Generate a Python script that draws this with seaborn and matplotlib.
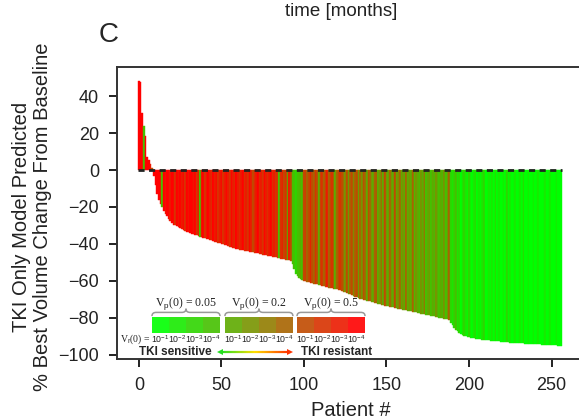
import numpy as np
import pandas as pd
import matplotlib
matplotlib.use('Agg')
import matplotlib.pyplot as plt
import seaborn as sns
from matplotlib.patches import Rectangle, PathPatch
from matplotlib.path import Path
from matplotlib.collections import LineCollection
from matplotlib.colors import LinearSegmentedColormap

# ------------------------------------------
# datos: % mejor cambio de volumen por paciente (ordenado)
# ------------------------------------------
seg_pos = [48, 47.5, 31, 24, 18.6, 7, 5.4, 3, 1]
seg_fall = [-3, -8, -13, -16, -18.5, -20, -22, -24, -25, -26.5, -27.5, -28.5,
            -29.5, -30, -30.5, -31, -31.5]
seg_a = [-32, -32.5, -33, -33.3, -33.7, -34, -34.4, -34.8, -35.1, -35.4, -35.7, -36]
seg_b = [-36.3, -36.6, -36.9, -37.2, -37.5, -37.8, -38.1, -38.4, -38.7, -39,
         -39.3, -39.6, -39.9, -40.2, -40.5, -40.8, -41.1, -41.4, -41.7, -42,
         -42.3, -42.6, -42.8, -43]
seg_c = [-43.2, -43.4, -43.6, -43.8, -44, -44.2, -44.4, -44.5, -44.7, -44.9,
         -45.1, -45.3, -45.5, -45.7, -45.9, -46.1, -46.3, -46.5, -46.7, -46.9,
         -47.1, -47.3, -47.5, -47.7, -47.9, -48.1, -48.3, -48.5, -48.6, -48.8, -49.2]
seg_drop1 = [-51, -53.5, -56, -57.5, -58.5, -59, -59.5]
seg_d = [-59.8, -60.1, -60.4, -60.6, -60.9, -61.1, -61.4, -61.6, -61.9, -62.1,
         -62.4, -62.6, -62.9, -63.1, -63.3, -63.6, -63.8, -64.0, -64.2, -64.4,
         -64.6, -64.8, -65]
seg_e = [-65.3, -65.7, -66.1, -66.5, -66.9, -67.3, -67.7, -68.1, -68.5, -68.9, -69.2, -69.5, -69.8, -70.1,
         -70.4, -70.6, -70.9, -71.1, -71.4, -71.6, -71.9, -72.1, -72.4, -72.6, -72.9, -73.1, -73.3, -73.5,
         -73.7, -73.9, -74.1, -74.3, -74.5, -74.7, -74.9, -75.1, -75.3, -75.5, -75.7, -75.9, -76.1, -76.3, -76.5, -76.6,
         -76.8, -77.0, -77.2, -77.4, -77.6, -77.8, -78.0, -78.2, -78.4, -78.6, -78.8, -79.0, -79.2, -79.4,
         -79.6, -79.8, -80.0, -80.2, -80.4, -80.6, -80.8, -81.0]
seg_drop2 = [-82.5, -84, -85.5, -86.5, -87.3, -88, -88.6, -89.1, -89.5, -89.9, -90.2, -90.5, -90.8, -91]
seg_tail = [-91.1, -91.2, -91.4, -91.5, -91.6, -91.7, -91.8, -91.9, -92.0, -92.1,
            -92.2, -92.3, -92.4, -92.5, -92.6, -92.7, -92.8, -92.9, -93.0, -93.1,
            -93.1, -93.2, -93.3, -93.3, -93.4, -93.5, -93.5, -93.6, -93.7, -93.7,
            -93.8, -93.9, -93.9, -94.0, -94.0, -94.1, -94.1, -94.2, -94.2, -94.3,
            -94.3, -94.4, -94.4, -94.5, -94.5, -94.6, -94.6, -94.7, -94.7, -94.8,
            -94.8, -94.9, -94.9, -95.0]

# indice de color (0 = Vp 0.05 / Vr 1e-1 ... 11 = Vp 0.5 / Vr 1e-4)
col_pos = [11, 11, 11, 3, 11, 11, 11, 10, 8]
col_fall = [11, 11, 11, 11, 11, 3, 11, 10, 11, 11, 10, 11, 11, 9, 11, 10, 11]
col_a = [10, 11, 9, 11, 10, 11, 11, 10, 11, 9, 11, 3]
col_b = [10, 11, 9, 10, 11, 10, 9, 11, 10, 11, 9, 10, 11, 9, 10, 11, 10, 9, 11, 10, 9, 11, 10, 9]
col_c = [10, 11, 9, 10, 9, 11, 10, 8, 9, 10, 11, 9, 10, 9, 11, 10, 9, 10, 11, 9, 10, 9, 10, 3,
         9, 10, 8, 9, 3, 10, 8]
col_drop1 = [3, 3, 2, 3, 3, 4, 3]
col_d = [8, 9, 7, 8, 10, 8, 7, 9, 8, 4, 8, 9, 7, 8, 10, 7, 8, 9, 8, 4, 7, 8, 9]
col_e = [8, 7, 5, 8, 4, 7, 8, 5, 7, 8, 4,
         7, 5, 8, 7, 4, 8, 7, 5, 4, 7, 8,
         4, 5, 7, 4, 8, 5, 4, 7, 5, 4, 8,
         4, 5, 7, 4, 5, 3, 7, 4, 5, 4, 7,
         3, 5, 4, 3, 5, 4, 7, 3, 4, 5, 3,
         4, 3, 5, 4, 3, 4, 3, 5, 3, 4, 7]
col_drop2 = [2, 1, 2, 3, 1, 2, 0, 1, 2, 1, 0, 2, 1, 0]
col_tail = [1, 2, 0, 1, 0, 1, 2, 0, 0, 1, 0, 1, 0, 2, 0, 1, 0, 0, 1, 0,
            2, 0, 1, 0, 0, 1, 0, 0, 1, 0, 2, 0, 0, 1, 0, 0, 1, 0, 0, 1,
            0, 0, 0, 1, 0, 0, 1, 0, 0, 0, 1, 0, 0, 0]

palette12 = ['#00ff00', '#17ea00', '#2ed500', '#45c000',
             '#5eaa00', '#789400', '#917c00', '#a86400',
             '#c04a00', '#d83200', '#ec1a00', '#ff0000']
vp_labels = ['0.05', '0.2', '0.5']
vr_labels = [r'10$^{-1}$', r'10$^{-2}$', r'10$^{-3}$', r'10$^{-4}$']

values = (seg_pos + seg_fall + seg_a + seg_b + seg_c + seg_drop1 + seg_d +
          seg_e + seg_drop2 + seg_tail)
cidx = (col_pos + col_fall + col_a + col_b + col_c + col_drop1 + col_d +
        col_e + col_drop2 + col_tail)
assert len(values) == len(cidx)
n = len(values)

df = pd.DataFrame({'patient': np.arange(n), 'change': values})
bar_colors = [palette12[i] for i in cidx]

# ------------------------------------------
# figura
# ------------------------------------------
sns.set_style('ticks')
plt.rcParams['font.family'] = ['Liberation Sans', 'DejaVu Sans']
plt.rcParams['mathtext.fontset'] = 'custom'
plt.rcParams['mathtext.rm'] = 'Liberation Sans'

fig = plt.figure(figsize=(5.79, 4.19), dpi=100)
ax = fig.add_axes([117 / 579, 60 / 419, 468 / 579, 292 / 419])

sns.barplot(data=df, x='patient', y='change', hue='patient', palette=bar_colors,
            saturation=1, width=1.0, linewidth=0, legend=False, ax=ax)
for p in ax.patches:
    p.set_edgecolor(p.get_facecolor())
    p.set_linewidth(0.3)

ax.plot([-0.8, n - 0.5], [0, 0], color='#222222', lw=2, ls=(0, (2.2, 1.6)))

ax.set_xlim(-13.3, 270.3)
ax.set_ylim(-102.2, 55.7)
ax.set_xticks([0, 50, 100, 150, 200, 250])
ax.set_xticklabels(['0', '50', '100', '150', '200', '250'])
ax.set_yticks([40, 20, 0, -20, -40, -60, -80, -100])
ax.set_yticklabels(['40', '20', '0', '\u221220', '\u221240', '\u221260', '\u221280', '\u2212100'])
ax.tick_params(labelsize=13, length=6, width=1.4, pad=7, color='#222222', labelcolor='#222222')
for s in ax.spines.values():
    s.set_linewidth(1.4)
    s.set_color('#333333')
ax.set_xlabel('Patient #', fontsize=14.5, labelpad=5, color='#222222')
ax.set_ylabel('')
fig.text(32 / 579, 1 - 217 / 419, 'TKI Only Model Predicted\n% Best Volume Change From Baseline',
         rotation=90, ha='center', va='center', fontsize=14.5, linespacing=1.1, color='#222222')

fig.text(109 / 579, 1 - 35 / 419, 'C', fontsize=20, ha='center', va='center')
fig.text(341 / 579, 1 - 12 / 419, 'time [months]', fontsize=13.5, ha='center', va='center',
         color='#222222')

# ------------------------------------------
# leyenda de colores dentro del eje
# ------------------------------------------
group_x = [7.9, 52.1, 95.8]
group_w = 41.2
cell_w = group_w / 4
y_top, y_bot = -79.5, -88.1
for g in range(3):
    x0 = group_x[g]
    for k in range(4):
        ax.add_patch(Rectangle((x0 + k * cell_w, y_bot), cell_w, y_top - y_bot,
                               facecolor=palette12[g * 4 + k], edgecolor='none',
                               alpha=0.9, clip_on=False, zorder=3))
        ax.text(x0 + (k + 0.5) * cell_w, -91.6, vr_labels[k], fontsize=6.3,
                ha='center', va='center', color='#222222')
    # llave
    x1 = x0 + group_w
    xm = (x0 + x1) / 2
    r = 2.5
    yb, ym, yt = -79.0, -77.0, -75.0
    verts = [(x0, yb), (x0, ym), (x0 + r, ym), (xm - r, ym), (xm, ym), (xm, yt),
             (x1, yb), (x1, ym), (x1 - r, ym), (xm + r, ym), (xm, ym), (xm, yt)]
    codes = [Path.MOVETO, Path.CURVE3, Path.CURVE3, Path.LINETO, Path.CURVE3, Path.CURVE3,
             Path.MOVETO, Path.CURVE3, Path.CURVE3, Path.LINETO, Path.CURVE3, Path.CURVE3]
    ax.add_patch(PathPatch(Path(verts, codes), fill=False, edgecolor='#999999', lw=1.1, zorder=3))
    ax.text(xm, -72.3, 'V$_\\mathrm{p}$(0) = ' + vp_labels[g], fontsize=8.5, ha='center',
            va='center', family=['Liberation Serif'], color='#222222')

ax.text(group_x[0] - 0.6, -91.6, 'V$_\\mathrm{r}$(0) = ', fontsize=7, ha='right', va='center',
        family=['Liberation Serif'], color='#222222', clip_on=False)

ax.text(21.8, -98.3, 'TKI sensitive', fontsize=8.5, fontweight='bold', ha='center', va='center')
ax.text(120, -98.3, 'TKI resistant', fontsize=8.5, fontweight='bold', ha='center', va='center')

arrow_cmap = LinearSegmentedColormap.from_list('arr', ['#22dd22', '#ffdd00', '#ff3300'])
ax_x = np.linspace(49.5, 91.0, 60)
pts = np.array([ax_x, np.full_like(ax_x, -98.3)]).T.reshape(-1, 1, 2)
segs = np.concatenate([pts[:-1], pts[1:]], axis=1)
lc = LineCollection(segs, colors=arrow_cmap(np.linspace(0, 1, len(segs))), linewidth=1.6, zorder=3)
ax.add_collection(lc)
ax.plot([49.0], [-98.3], marker='<', color='#22dd22', ms=5, mew=0, zorder=4)
ax.plot([91.5], [-98.3], marker='>', color='#ff3300', ms=5, mew=0, zorder=4)

fig.savefig('out.png', dpi=100)
